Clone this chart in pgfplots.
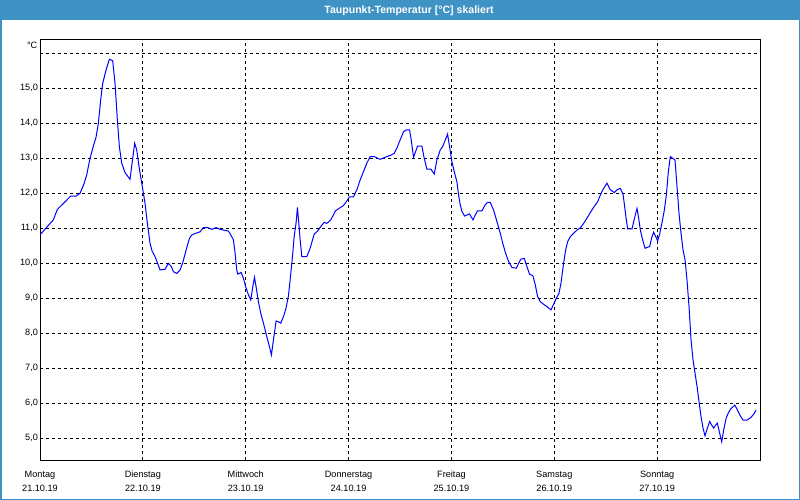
\documentclass[border=0pt]{standalone}
\usepackage{fontspec}
\setmainfont{Liberation Sans}
\usepackage{pgfplots}
\pgfplotsset{compat=1.18}
\definecolor{barblue}{RGB}{62,146,196}
\definecolor{lineblue}{RGB}{0,0,255}
\begin{document}
\begin{tikzpicture}
\useasboundingbox (0,0) rectangle (800bp,500bp);
\fill[white] (0,0) rectangle (800bp,500bp);
\fill[barblue] (0,479.5bp) rectangle (800bp,500bp);
\draw[barblue, line width=1.5bp] (0.75bp,0.75bp) rectangle (799.25bp,499.25bp);
\node[text=white, font=\fontsize{10.6}{12}\selectfont\bfseries] at (409bp,489.5bp) {Taupunkt-Temperatur [°C] skaliert};
\node[anchor=east, font=\fontsize{9.2}{11}\selectfont, inner sep=0pt] at (37.5bp,455bp) {°C};
\begin{axis}[
  at={(40bp,40bp)}, anchor=south west,
  width=720bp, height=420bp, scale only axis,
  xmin=0, xmax=168, ymin=4.38, ymax=16.38,
  xtick={0,24,48,72,96,120,144},
  xticklabels={{Montag\\21.10.19},{Dienstag\\22.10.19},{Mittwoch\\23.10.19},{Donnerstag\\24.10.19},{Freitag\\25.10.19},{Samstag\\26.10.19},{Sonntag\\27.10.19}},
  xticklabel style={align=center, font=\fontsize{9.2}{14.3}\selectfont, yshift=-7.5bp},
  ytick={5,6,7,8,9,10,11,12,13,14,15,16},
  yticklabels={{5,0},{6,0},{7,0},{8,0},{9,0},{10,0},{11,0},{12,0},{13,0},{14,0},{15,0},{}},
  yticklabel style={font=\fontsize{9.2}{11}\selectfont, xshift=1.5bp},
  major tick length=0pt,
  grid=major,
  major grid style={black, line width=1bp, dash pattern=on 3bp off 3bp},
  axis line style={black, line width=1bp},
  clip=true,
]
\addplot[lineblue, line width=1bp, mark=none] coordinates {
(0.00,10.81)(1.56,11.03)(3.11,11.24)(4.05,11.54)(5.45,11.71)(7.16,11.92)(8.40,11.92)(9.34,12.00)(10.27,12.27)(10.89,12.52)(11.67,13.00)(12.45,13.35)(13.07,13.60)(13.62,14.00)(14.16,14.67)(14.63,15.14)(15.41,15.52)(16.19,15.83)(16.96,15.79)(17.51,15.14)(18.05,14.10)(18.52,13.33)(19.07,12.86)(19.84,12.59)(20.39,12.50)(21.01,12.40)(21.48,12.86)(22.10,13.43)(22.57,13.24)(23.11,12.76)(23.74,12.29)(24.51,11.71)(25.06,11.14)(25.68,10.57)(26.15,10.35)(26.85,10.19)(27.39,10.02)(28.02,9.81)(29.18,9.83)(29.96,10.00)(30.58,9.92)(31.13,9.76)(31.91,9.71)(32.68,9.81)(33.31,10.02)(34.09,10.38)(34.86,10.71)(35.41,10.81)(36.42,10.86)(37.35,10.90)(38.13,11.02)(39.14,11.02)(40.08,10.97)(41.09,11.02)(42.02,10.97)
(43.97,10.92)(44.51,10.81)(45.13,10.67)(45.52,10.29)(45.91,9.81)(46.14,9.69)(46.92,9.74)(47.47,9.57)(48.09,9.29)(48.63,9.10)(49.18,8.95)(49.65,9.33)(50.04,9.60)(50.42,9.33)(50.97,8.90)(51.51,8.57)(52.14,8.29)(52.92,7.90)(53.54,7.62)(54.00,7.38)(54.47,7.81)(55.09,8.35)(55.64,8.33)(56.18,8.29)(56.81,8.48)(57.35,8.69)(57.97,9.07)(58.52,9.71)(58.98,10.29)(59.30,10.76)(59.76,11.16)(60.07,11.60)(60.39,11.14)(60.70,10.67)(61.09,10.19)(62.25,10.19)(63.03,10.43)(63.97,10.83)(64.74,10.92)(65.52,11.05)(66.30,11.17)(66.92,11.14)(67.86,11.24)(68.95,11.50)(69.80,11.57)(70.81,11.65)(71.59,11.78)(72.21,11.90)(73.15,11.90)(73.93,12.10)(74.70,12.38)(75.48,12.62)(76.26,12.86)(77.04,13.05)(77.97,13.05)(79.37,12.97)(80.54,13.03)(81.71,13.08)(82.64,13.14)(83.26,13.29)(84.05,13.53)
(84.83,13.76)(85.45,13.81)(86.23,13.81)(86.62,13.52)(87.16,13.03)(88.10,13.35)(89.11,13.35)(89.65,13.00)(90.28,12.69)(91.21,12.69)(91.99,12.55)(92.61,12.95)(93.39,13.24)(94.01,13.35)(94.56,13.52)(95.10,13.69)(95.57,13.33)(96.11,12.90)(96.66,12.62)(97.28,12.33)(97.67,11.95)(98.06,11.67)(98.45,11.48)(99.07,11.35)(99.61,11.38)(100.24,11.41)(101.01,11.24)(101.56,11.38)(102.10,11.50)(103.12,11.50)(103.89,11.67)(104.44,11.74)(105.06,11.74)(105.84,11.52)(106.62,11.19)(107.40,10.86)(108.02,10.55)(108.64,10.29)(109.34,10.05)(110.12,9.88)(111.13,9.86)(111.68,10.00)(112.22,10.12)(113.00,10.14)(113.62,9.90)(114.24,9.69)(115.02,9.64)(115.57,9.38)(116.11,9.05)(116.73,8.90)(117.51,8.83)(118.29,8.76)(119.22,8.67)(119.85,8.83)(120.47,9.00)(121.09,9.14)(121.56,9.43)(122.18,10.00)(122.65,10.38)(123.12,10.62)(123.74,10.76)(124.52,10.86)(125.30,10.95)(126.07,11.01)
(126.85,11.14)(127.63,11.29)(128.40,11.45)(129.18,11.60)(130.12,11.76)(130.74,11.95)(131.36,12.11)(132.30,12.29)(133.07,12.10)(134.01,12.02)(134.63,12.10)(135.41,12.14)(136.03,11.98)(136.42,11.62)(136.81,11.24)(137.12,10.98)(138.13,10.98)(138.52,11.19)(138.91,11.38)(139.30,11.57)(139.69,11.29)(140.08,10.95)(140.62,10.67)(141.17,10.43)(142.26,10.48)(142.80,10.76)(143.19,10.89)(143.66,10.76)(144.12,10.64)(144.59,10.84)(145.14,11.16)(145.68,11.52)(146.15,11.95)(146.61,12.62)(147.08,13.05)(147.63,13.00)(148.17,12.95)(148.64,12.19)(149.10,11.43)(149.57,10.86)(150.04,10.38)(150.51,10.10)(150.97,9.52)(151.44,8.76)(151.91,7.81)(152.37,7.24)(152.84,6.86)(153.31,6.48)(153.77,6.05)(154.24,5.62)(154.71,5.29)(155.17,5.07)(155.72,5.29)(156.26,5.48)(156.81,5.36)(157.20,5.29)(157.59,5.37)(158.05,5.43)(158.60,5.14)(159.07,4.90)(159.53,5.24)(160.08,5.57)(160.55,5.71)(161.09,5.83)(162.10,5.95)(162.65,5.83)(163.27,5.67)(164.05,5.52)(164.98,5.52)(165.91,5.60)(166.54,5.69)(167.08,5.81)
};
\end{axis}
\end{tikzpicture}
\end{document}
